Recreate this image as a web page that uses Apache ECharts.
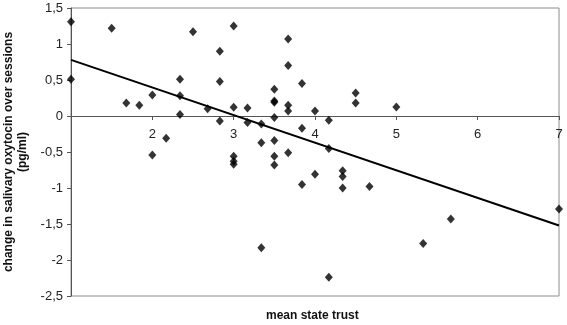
<!DOCTYPE html>
<html>
<head>
<meta charset="utf-8">
<script src="https://cdn.jsdelivr.net/npm/echarts@6/dist/echarts.min.js"></script>
<style>
  html, body { margin: 0; padding: 0; background: #fff; }
  #chart { width: 567px; height: 325px; }
</style>
</head>
<body>
<div id="chart"></div>
<script>
// mean state trust (x) and change in oxytocin (y)
var trustX = [1, 1, 1.5, 1.68, 1.84, 2.0, 2.0, 2.17, 2.34, 2.34, 2.34, 2.5,
  2.68, 2.83, 2.83, 2.83, 3.0, 3.0, 3.0, 3.0, 3.0, 3.17, 3.17, 3.34, 3.34, 3.34,
  3.5, 3.5, 3.5, 3.5, 3.5, 3.5, 3.5, 3.67, 3.67, 3.67, 3.67, 3.67, 3.84, 3.84, 3.84,
  4.0, 4.0, 4.17, 4.17, 4.17, 4.34, 4.34, 4.34, 4.5, 4.5, 4.67, 5.0, 5.33, 5.67, 7.0];
var oxyY = [1.31, 0.51, 1.22, 0.18, 0.15, 0.29, -0.54, -0.31, 0.51, 0.28, 0.02, 1.17,
  0.10, 0.90, 0.48, -0.07, 1.25, 0.12, -0.56, -0.63, -0.67, 0.11, -0.09, -0.11, -0.37, -1.83,
  0.37, 0.21, 0.19, -0.02, -0.34, -0.56, -0.68, 1.07, 0.70, 0.15, 0.07, -0.51, 0.45, -0.17, -0.95,
  0.07, -0.81, -0.06, -0.45, -2.24, -0.76, -0.84, -1.0, 0.32, 0.18, -0.98, 0.125, -1.77, -1.43, -1.29];

// regression line end points
var fitX = [1, 7];
var fitY = [0.78, -1.52];

var xTicks = [1, 2, 3, 4, 5, 6, 7];
var yTicks = [-2.5, -2, -1.5, -1, -0.5, 0, 0.5, 1, 1.5];

var points = trustX.map(function (x, i) { return [x, oxyY[i]]; });
var fitLine = fitX.map(function (x, i) { return [x, fitY[i]]; });

var gridTop = 8, gridBottom = 29, chartH = 325;
// x axis sits on y = 0: lift it from the bottom edge of the grid
var plotH = chartH - gridTop - gridBottom;
var zeroLift = plotH * (0 - yTicks[0]) / (yTicks[yTicks.length - 1] - yTicks[0]);

var chart = echarts.init(document.getElementById('chart'));
chart.setOption({
  animation: false,
  textStyle: { fontFamily: 'Liberation Sans, Arial, sans-serif' },
  grid: {
    left: 71,
    right: 8,
    top: gridTop,
    bottom: gridBottom,
    containLabel: false,
    outerBoundsMode: 'none',
    show: true,
    borderColor: '#8c8c8c',
    borderWidth: 1
  },
  xAxis: {
    type: 'value',
    position: 'bottom',
    offset: -zeroLift,
    min: xTicks[0],
    max: xTicks[xTicks.length - 1],
    interval: 1,
    axisLine: { onZero: false, lineStyle: { color: '#555', width: 1 } },
    axisTick: { show: true, length: 4, lineStyle: { color: '#555' } },
    splitLine: { show: false },
    axisLabel: {
      margin: 12,
      color: '#222',
      fontSize: 13,
      formatter: function (v) { return v === 1 ? '' : String(v); }
    }
  },
  yAxis: {
    type: 'value',
    min: yTicks[0],
    max: yTicks[yTicks.length - 1],
    interval: 0.5,
    axisLine: { show: true, onZero: false, lineStyle: { color: '#555', width: 1 } },
    axisTick: { show: true, length: 4, lineStyle: { color: '#555' } },
    splitLine: { show: false },
    axisLabel: {
      margin: 8,
      color: '#222',
      fontSize: 13,
      formatter: function (v) { return String(v).replace('.', ','); }
    },
    name: 'change in salivary oxytocin over sessions\n(pg/ml)',
    nameLocation: 'middle',
    nameGap: 40,
    nameTextStyle: {
      fontWeight: 'bold',
      fontSize: 12,
      color: '#111',
      lineHeight: 14
    }
  },
  graphic: [{
    type: 'text',
    left: 266,
    top: 310,
    style: {
      text: 'mean state trust',
      fontWeight: 'bold',
      fontSize: 12,
      fill: '#111',
      fontFamily: 'Liberation Sans, Arial, sans-serif'
    }
  }],
  series: [{
    type: 'scatter',
    data: points,
    symbol: 'diamond',
    symbolSize: [8, 9],
    itemStyle: { color: '#000' },
    z: 3
  }, {
    type: 'line',
    data: fitLine,
    showSymbol: false,
    symbol: 'none',
    lineStyle: { color: '#000', width: 2 },
    z: 2
  }]
});
</script>
</body>
</html>
